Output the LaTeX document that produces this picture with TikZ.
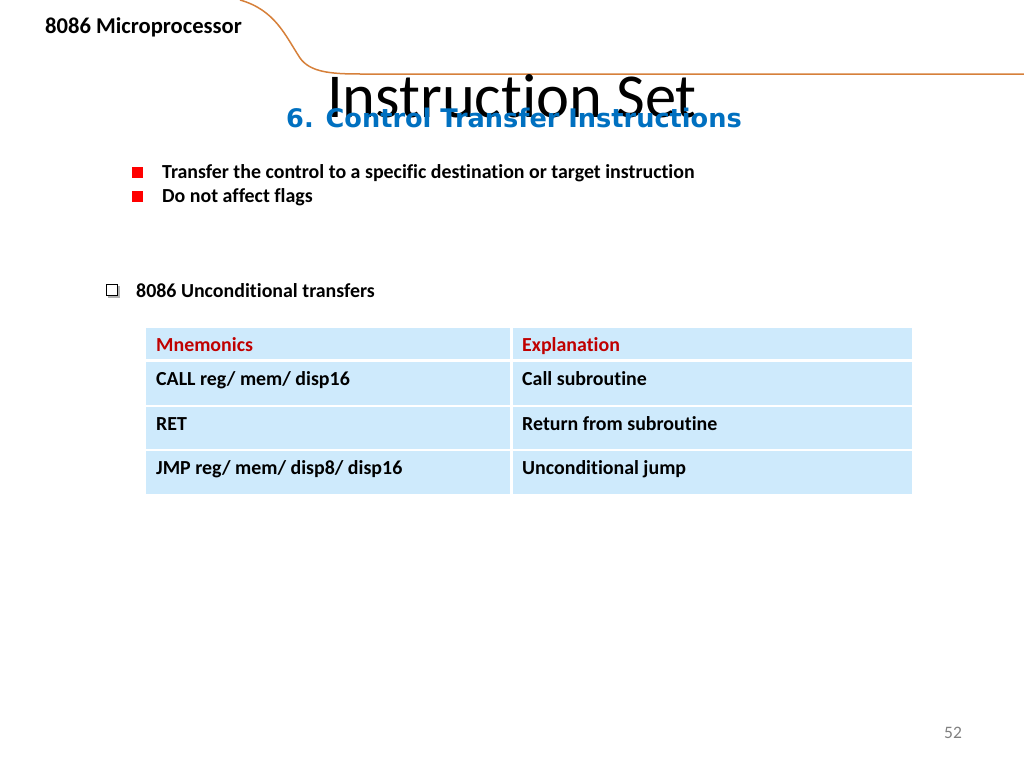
\documentclass[tikz,border=0pt]{standalone}
\usepackage{fontspec}
\setmainfont[Ligatures=NoCommon]{Carlito}
\newfontfamily\subfont{DejaVu Sans}
\definecolor{rowblue}{RGB}{206,234,252}
\definecolor{orng}{RGB}{214,128,58}
\definecolor{subblue}{RGB}{0,112,192}
\definecolor{hdrred}{RGB}{192,0,0}
\begin{document}
\begin{tikzpicture}[x=1pt,y=-1pt,
  txt/.style={anchor=base west,font=\fontsize{19.9}{23}\selectfont\bfseries,inner sep=0},
  cell/.style={fill=rowblue,draw=none}]
\useasboundingbox (0,0) rectangle (1024,768);
\draw[orng,line width=1.5] (240,0) .. controls (275,10) and (285,35) .. (300,58) .. controls (310,72) and (330,74) .. (360,74) -- (1024,74);
\node[txt,font=\fontsize{22.6}{26}\selectfont\bfseries] (hdr) at (45,34) {8086 Microprocessor};
\node[anchor=center,inner sep=0,font=\fontsize{62.5}{70}\selectfont] (title) at (512,96) {Instruction Set};
\node[anchor=center,inner sep=0,text=subblue,font=\subfont\fontsize{25.6}{30}\selectfont\bfseries] (sub) at (514,118) {6. Control Transfer Instructions};
\fill[red] (132,167) rectangle (143,178);
\fill[red] (132,191) rectangle (143,202);
\node[txt] (b1) at (162,178) {Transfer the control to a specific destination or target instruction};
\node[txt] (b2) at (162,202) {Do not affect flags};
\fill[gray!60] (108,286) rectangle (120,298);
\draw[fill=white,line width=0.8] (106,284) rectangle (117,295);
\node[txt] (sec) at (136,297) {8086 Unconditional transfers};
\foreach \a/\b in {328/359,362/405,407/449,451/494}{
  \fill[cell] (146,\a) rectangle (510,\b);
  \fill[cell] (513,\a) rectangle (912,\b);}
\node[txt,text=hdrred] (h1) at (156,351) {Mnemonics};
\node[txt,text=hdrred] (h2) at (522,351) {Explanation};
\node[txt] (r1a) at (156,385) {CALL reg/ mem/ disp16};
\node[txt] (r1b) at (522,385) {Call subroutine};
\node[txt] (r2a) at (156,430) {RET};
\node[txt] (r2b) at (522,430) {Return from subroutine};
\node[txt] (r3a) at (156,474) {JMP reg/ mem/ disp8/ disp16};
\node[txt] (r3b) at (522,474) {Unconditional jump};
\node[anchor=center,inner sep=0,text=gray,font=\fontsize{17.5}{20}\selectfont] (pg) at (953,733) {52};
\end{tikzpicture}
\end{document}
